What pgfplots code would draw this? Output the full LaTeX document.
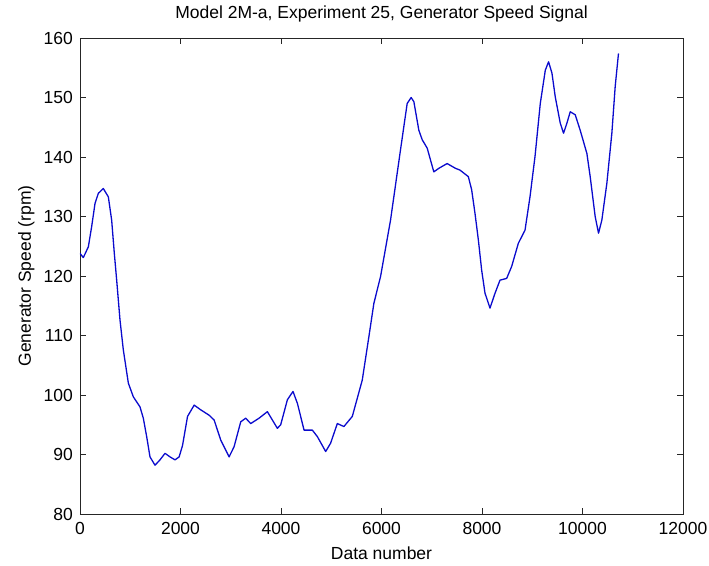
\documentclass[border=0pt]{standalone}
\usepackage{fontspec}
\setmainfont{Liberation Sans}
\usepackage{pgfplots}
\pgfplotsset{compat=1.18}
\begin{document}
\begin{tikzpicture}
\useasboundingbox (-80pt,-51pt) rectangle (629pt,514pt);
\begin{axis}[
  at={(0pt,0pt)}, anchor=south west,
  scale only axis, width=603pt, height=476pt,
  xmin=0, xmax=12000, ymin=80, ymax=160,
  xtick={0,2000,...,12000}, ytick={80,90,...,160},
  scaled x ticks=false,
  /pgf/number format/assume math mode=true,
  /pgf/number format/1000 sep={},
  tick align=inside, major tick length=6pt,
  axis line style={line width=0.9pt, black!85},
  every tick/.style={line width=0.9pt, black!85},
  font=\fontsize{17.5}{20}\selectfont,
  xticklabel style={inner sep=0pt, anchor=north, yshift=-8pt},
  yticklabel style={inner sep=0pt, anchor=east, xshift=-7pt},
  title={Model 2M-a, Experiment 25, Generator Speed Signal},
  title style={at={(axis description cs:0.5,1.0294)}, anchor=base, inner sep=0pt},
  xlabel={Data number},
  xlabel style={at={(axis description cs:0.5,-0.0966)}, anchor=base, inner sep=0pt},
  ylabel={Generator Speed (rpm)},
  ylabel style={at={(axis description cs:-0.0813,0.5)}, rotate=0, anchor=base, inner sep=0pt},
]
\addplot[color={rgb,255:red,10;green,10;blue,205}, line width=1.3pt, line join=round] coordinates {
(0,123.8) (66,123.1) (166,124.9) (232,128.3) (299,132.2) (365,133.9) (464,134.7) (564,133.3)
(630,129.4) (683,123.8) (730,119.3) (796,112.6) (862,107.6) (962,102.0) (1061,99.7) (1194,98.0)
(1260,96.1) (1327,93.0) (1393,89.6) (1493,88.2) (1592,89.1) (1692,90.2) (1791,89.6) (1891,89.1)
(1973,89.6) (2040,91.5) (2140,96.4) (2272,98.3) (2404,97.5) (2570,96.6)
(2669,95.8) (2802,92.4) (2967,89.6) (3066,91.3) (3199,95.5) (3298,96.1) (3397,95.2) (3563,96.1)
(3729,97.2) (3928,94.4) (3994,95.0) (4127,99.2) (4239,100.6) (4326,98.6) (4459,94.1) (4624,94.1)
(4724,93.0) (4889,90.5) (4987,91.9) (5121,95.2) (5252,94.7) (5419,96.4) (5617,102.5) (5749,109.8)
(5848,115.4) (5981,119.9) (6180,129.4) (6378,141.2) (6511,149.0) (6590,150.0) (6644,149.3) (6743,144.5)
(6810,142.9) (6909,141.5) (7041,137.5) (7141,138.1) (7306,138.9) (7471,138.1) (7562,137.8) (7728,136.7)
(7794,134.5) (7861,130.5) (7927,126.1) (7993,121.0) (8060,117.1) (8159,114.6) (8259,117.1) (8358,119.3)
(8491,119.6) (8590,121.6) (8723,125.5) (8856,127.7) (8955,133.3) (9055,140.1)
(9160,149.0) (9260,154.6) (9325,156.0) (9392,154.1) (9458,150.1)
(9557,145.7) (9623,144.0) (9690,145.7) (9756,147.6) (9855,147.1) (9954,144.5) (10087,140.6) (10153,136.7)
(10252,130.0) (10319,127.2) (10385,129.4) (10485,135.6) (10584,144.0) (10650,151.8) (10716,157.4)
};
\end{axis}
\end{tikzpicture}
\end{document}
